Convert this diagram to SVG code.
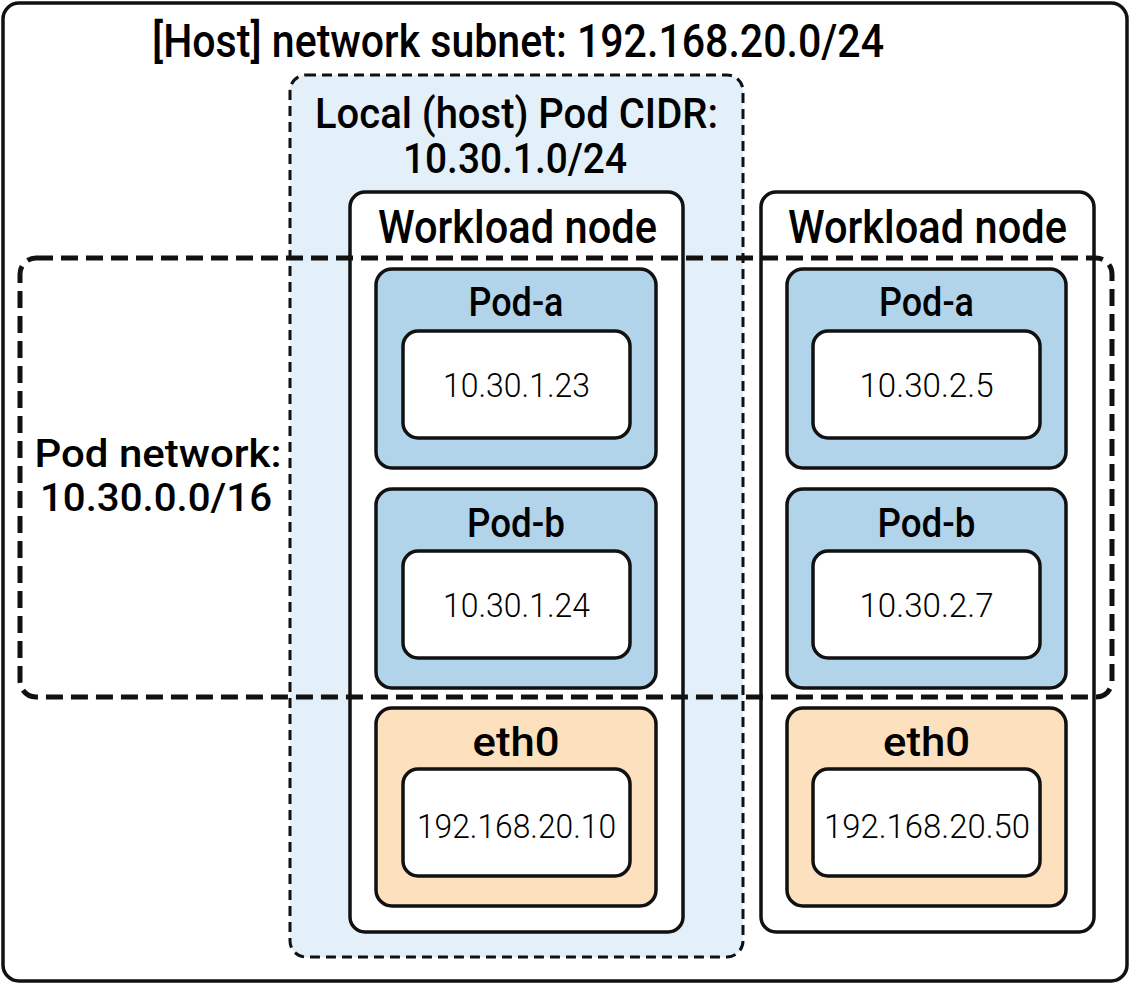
<svg xmlns="http://www.w3.org/2000/svg" width="1130" height="984" viewBox="0 0 1130 984">
<style>
.outer{fill:#fff;stroke:#111;stroke-width:3.5;}
.cidr{fill:#e3f0f9;stroke:#111;stroke-width:3;stroke-dasharray:10 6;}
.podnet{fill:none;stroke:#111;stroke-width:5;stroke-dasharray:17 8;}
.node{fill:#fff;stroke:#111;stroke-width:3.5;}
.pod{fill:#b1d4ea;stroke:#111;stroke-width:3.5;}
.eth{fill:#fde0be;stroke:#111;stroke-width:3.5;}
.ip{fill:#fff;stroke:#111;stroke-width:3.5;}
text{font-family:Roboto,"Liberation Sans",sans-serif;fill:#000;text-anchor:middle;}
.big{font-size:46px;font-weight:500;}
.two{font-size:43px;font-weight:500;}
.pn{font-size:38px;font-weight:500;}
.mid{font-size:40px;font-weight:500;}
.addr{font-size:33px;font-weight:300;}
</style>
<g id="host">
<rect class="outer" x="3" y="3" width="1124" height="978" rx="16"/>
<text class="big" x="518" y="57" textLength="732" lengthAdjust="spacingAndGlyphs">[Host] network subnet: 192.168.20.0/24</text>
</g>
<g id="local-cidr">
<rect class="cidr" x="290" y="75" width="453" height="882" rx="16"/>
<text class="two" x="516.5" y="128" textLength="403" lengthAdjust="spacingAndGlyphs">Local (host) Pod CIDR:</text>
<text class="two" x="515" y="173" textLength="224" lengthAdjust="spacingAndGlyphs">10.30.1.0/24</text>
</g>
<g id="workload-node-1">
<rect class="node" x="350" y="192" width="333" height="740" rx="15"/>
<text class="big" x="517.5" y="243" textLength="279" lengthAdjust="spacingAndGlyphs">Workload node</text>
</g>
<g id="workload-node-2">
<rect class="node" x="761" y="192" width="333" height="740" rx="15"/>
<text class="big" x="927.5" y="243" textLength="279" lengthAdjust="spacingAndGlyphs">Workload node</text>
</g>
<g id="pod-network">
<rect class="podnet" x="20" y="258" width="1092" height="439" rx="16"/>
<text class="pn" x="158" y="467" textLength="247" lengthAdjust="spacingAndGlyphs">Pod network:</text>
<text class="pn" x="156" y="511" textLength="232" lengthAdjust="spacingAndGlyphs">10.30.0.0/16</text>
</g>
<g id="n1-pod-a">
<rect class="pod" x="376" y="269" width="280" height="199" rx="16"/>
<text class="mid" x="516" y="316" textLength="95" lengthAdjust="spacingAndGlyphs">Pod-a</text>
<rect class="ip" x="403" y="331" width="227" height="107" rx="15"/>
<text class="addr" x="516.5" y="397" textLength="147" lengthAdjust="spacingAndGlyphs">10.30.1.23</text>
</g>
<g id="n1-pod-b">
<rect class="pod" x="376" y="489" width="280" height="199" rx="16"/>
<text class="mid" x="516" y="537" textLength="98" lengthAdjust="spacingAndGlyphs">Pod-b</text>
<rect class="ip" x="403" y="551" width="227" height="107" rx="15"/>
<text class="addr" x="516.5" y="617" textLength="147" lengthAdjust="spacingAndGlyphs">10.30.1.24</text>
</g>
<g id="n1-eth0">
<rect class="eth" x="376" y="708" width="280" height="198" rx="16"/>
<text class="mid" x="516" y="756" textLength="87" lengthAdjust="spacingAndGlyphs">eth0</text>
<rect class="ip" x="403" y="769" width="227" height="107" rx="15"/>
<text class="addr" x="516.5" y="838" textLength="199" lengthAdjust="spacingAndGlyphs">192.168.20.10</text>
</g>
<g id="n2-pod-a">
<rect class="pod" x="787" y="269" width="279" height="199" rx="16"/>
<text class="mid" x="926.5" y="316" textLength="95" lengthAdjust="spacingAndGlyphs">Pod-a</text>
<rect class="ip" x="813" y="331" width="227" height="107" rx="15"/>
<text class="addr" x="926.5" y="397" textLength="134" lengthAdjust="spacingAndGlyphs">10.30.2.5</text>
</g>
<g id="n2-pod-b">
<rect class="pod" x="787" y="489" width="279" height="199" rx="16"/>
<text class="mid" x="926.5" y="537" textLength="98" lengthAdjust="spacingAndGlyphs">Pod-b</text>
<rect class="ip" x="813" y="551" width="227" height="107" rx="15"/>
<text class="addr" x="926.5" y="617" textLength="134" lengthAdjust="spacingAndGlyphs">10.30.2.7</text>
</g>
<g id="n2-eth0">
<rect class="eth" x="787" y="708" width="279" height="198" rx="16"/>
<text class="mid" x="926.5" y="756" textLength="87" lengthAdjust="spacingAndGlyphs">eth0</text>
<rect class="ip" x="813" y="769" width="227" height="107" rx="15"/>
<text class="addr" x="927" y="838" textLength="206" lengthAdjust="spacingAndGlyphs">192.168.20.50</text>
</g>
<g id="connectors"></g>
</svg>
